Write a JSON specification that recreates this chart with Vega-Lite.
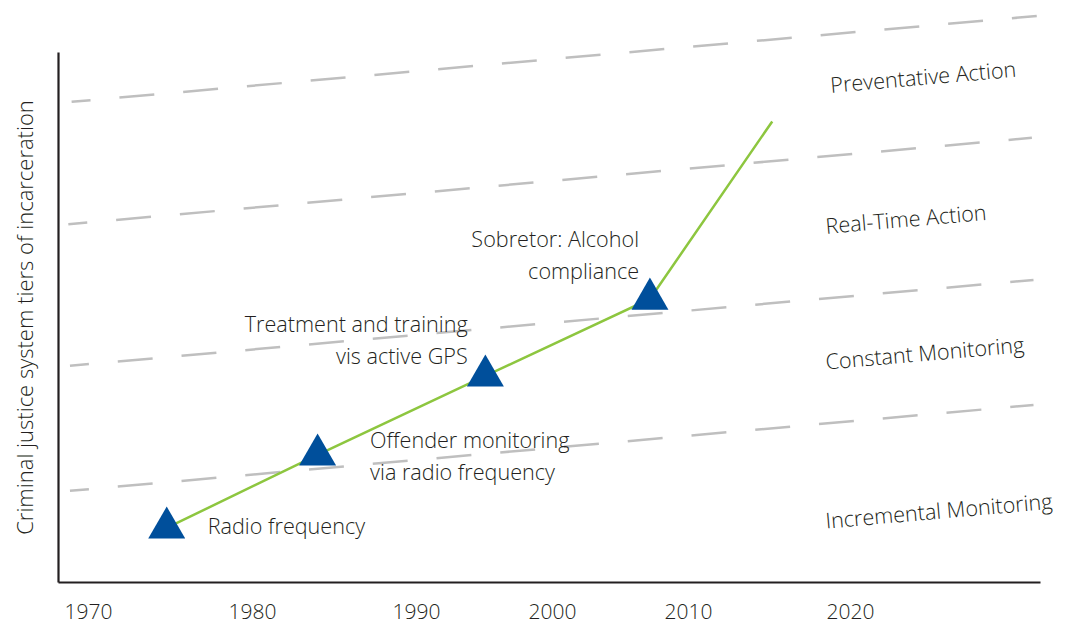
{
  "$schema": "https://vega.github.io/schema/vega-lite/v6.json",
  "width": 982,
  "height": 530,
  "autosize": {"type": "none"},
  "padding": {"left": 58, "top": 52, "right": 28, "bottom": 43},
  "background": "white",
  "config": {
    "view": {"stroke": null},
    "font": "Open Sans",
    "text": {"font": "Open Sans", "fontSize": 21.6, "fontWeight": 300, "color": "#231f20"}
  },
  "datasets": {
    "tiers": [
      {"tier": "Preventative Action", "x": 1969.0, "y": 90.6},
      {"tier": "Preventative Action", "x": 2031.5, "y": 106.8},
      {"tier": "Real-Time Action", "x": 1968.8, "y": 67.5},
      {"tier": "Real-Time Action", "x": 2031.2, "y": 83.8},
      {"tier": "Constant Monitoring", "x": 1968.9, "y": 40.8},
      {"tier": "Constant Monitoring", "x": 2031.3, "y": 57.0},
      {"tier": "Incremental Monitoring", "x": 1968.9, "y": 17.2},
      {"tier": "Incremental Monitoring", "x": 2031.3, "y": 33.4}
    ],
    "path": [
      {"x": 1974.8, "y": 10.2, "milestone": "yes"},
      {"x": 1984, "y": 24.0, "milestone": "yes"},
      {"x": 1995.1, "y": 38.9, "milestone": "yes"},
      {"x": 2007.2, "y": 53.4, "milestone": "yes"},
      {"x": 2015.2, "y": 86.9, "milestone": "no"}
    ],
    "tierLabels": [
      {"x": 2018.8, "y": 93.4, "text": "Preventative Action"},
      {"x": 2018.5, "y": 66.8, "text": "Real-Time Action"},
      {"x": 2018.5, "y": 41.2, "text": "Constant Monitoring"},
      {"x": 2018.5, "y": 11.2, "text": "Incremental Monitoring"}
    ],
    "notes": [
      {"x": 1977.3, "y": 10.1, "side": "after", "text": ["Radio frequency"]},
      {"x": 1987.2, "y": 26.4, "side": "after", "text": ["Offender monitoring", "via radio frequency"]},
      {"x": 1993.8, "y": 48.3, "side": "before", "text": ["Treatment and training", "vis active GPS"]},
      {"x": 2006.4, "y": 64.3, "side": "before", "text": ["Sobretor: Alcohol", "compliance"]}
    ]
  },
  "encoding": {
    "x": {
      "field": "x",
      "type": "quantitative",
      "scale": {
        "domain": [1968.17, 1970, 1980, 1990, 2000, 2010, 2020, 2031.7],
        "range": [0, 30, 194, 358, 494, 630, 792, 982],
        "nice": false,
        "zero": false
      },
      "axis": {
        "values": [1970, 1980, 1990, 2000, 2010, 2020],
        "format": "d",
        "title": null,
        "grid": false,
        "ticks": false,
        "tickSize": 0,
        "labelPadding": 19,
        "labelFont": "Open Sans",
        "labelFontSize": 21,
        "labelFontWeight": 300,
        "labelColor": "#231f20",
        "labelBaseline": "top",
        "domainColor": "#231f20",
        "domainWidth": 2.2
      }
    },
    "y": {
      "field": "y",
      "type": "quantitative",
      "scale": {"domain": [0, 100], "nice": false, "zero": false},
      "axis": {
        "title": "Criminal justice system tiers of incarceration",
        "titleFont": "Open Sans",
        "titleFontSize": 22,
        "titleFontWeight": 300,
        "titleColor": "#231f20",
        "titlePadding": 21,
        "labels": false,
        "ticks": false,
        "tickSize": 0,
        "grid": false,
        "domainColor": "#231f20",
        "domainWidth": 2.2
      }
    }
  },
  "layer": [
    {
      "data": {"name": "tiers"},
      "mark": {
        "type": "line",
        "color": "#bfbfbf",
        "strokeWidth": 2.5,
        "strokeDash": [35, 29],
        "strokeDashOffset": 16,
        "clip": false
      },
      "encoding": {"detail": {"field": "tier", "type": "nominal"}}
    },
    {
      "data": {"name": "path"},
      "mark": {"type": "line", "color": "#8dc63f", "strokeWidth": 2.5, "clip": false},
      "encoding": {}
    },
    {
      "data": {"name": "path"},
      "transform": [{"filter": "datum.milestone === 'yes'"}],
      "mark": {
        "type": "point",
        "shape": "M0,-1.155L1,0.577L-1,0.577Z",
        "filled": true,
        "opacity": 1,
        "size": 1369,
        "color": "#004f9b",
        "strokeWidth": 0
      },
      "encoding": {}
    },
    {
      "data": {"name": "tierLabels"},
      "mark": {"type": "text", "align": "left", "baseline": "middle", "angle": -5},
      "encoding": {"text": {"field": "text"}}
    },
    {
      "data": {"name": "notes"},
      "transform": [{"filter": "datum.side === 'after'"}],
      "mark": {"type": "text", "align": "left", "baseline": "middle", "lineHeight": 32},
      "encoding": {"text": {"field": "text"}}
    },
    {
      "data": {"name": "notes"},
      "transform": [{"filter": "datum.side === 'before'"}],
      "mark": {"type": "text", "align": "right", "baseline": "middle", "lineHeight": 32},
      "encoding": {"text": {"field": "text"}}
    }
  ]
}
